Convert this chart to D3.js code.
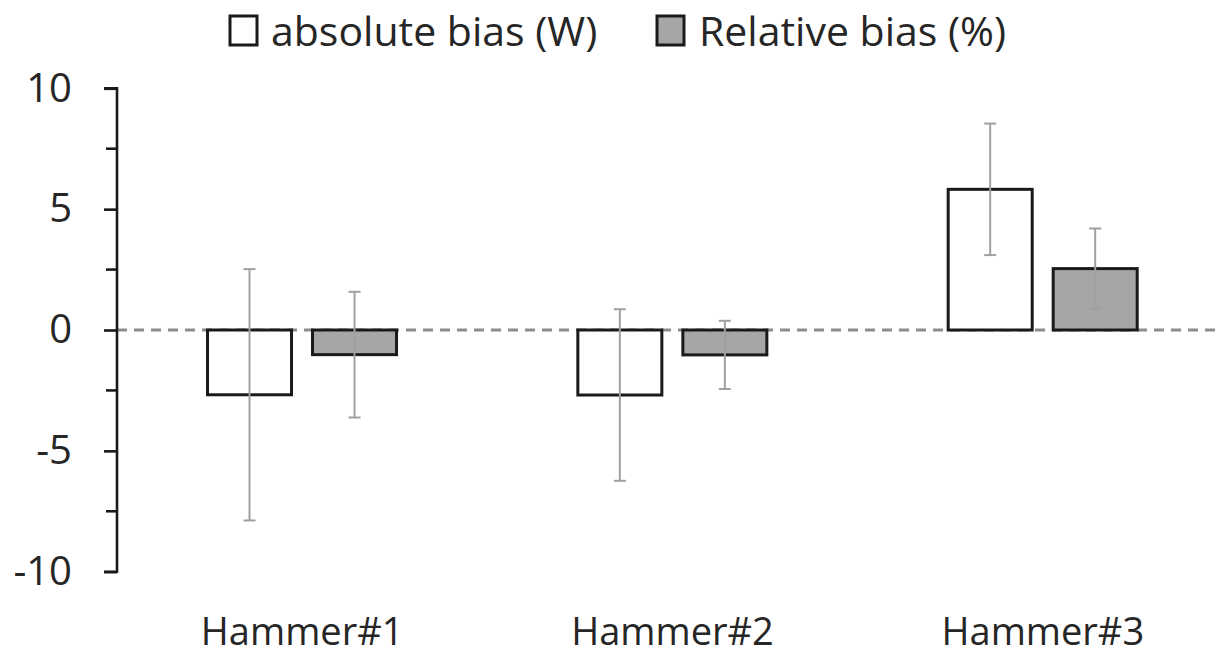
<!DOCTYPE html>
<html>
<head>
<meta charset="utf-8">
<script src="https://cdn.jsdelivr.net/npm/d3@7"></script>
<style>
  html, body { margin: 0; padding: 0; background: #fff; }
  svg { display: block; }
  text { font-family: "Open Sans", "DejaVu Sans", sans-serif; fill: #262626; }
</style>
</head>
<body>
<svg id="chart" width="1219" height="656"></svg>
<script>
// Categories and series
const categories = ["Hammer#1", "Hammer#2", "Hammer#3"];
const seriesNames = ["absolute bias (W)", "Relative bias (%)"];
// Mean bias per hammer
const absoluteBias = [-2.68, -2.69, 5.82];
const relativeBias = [-1.02, -1.03, 2.54];
// Error bar half-widths (± SD)
const absoluteSD = [5.2, 3.55, 2.72];
const relativeSD = [2.6, 1.41, 1.66];
// Axis ticks
const yTicks = [-10, -5, 0, 5, 10];
const yMinorTicks = [-7.5, -2.5, 2.5, 7.5];

const fills = ["#ffffff", "#a6a6a6"];

const svg = d3.select("#chart");
const margin = { left: 117, right: -9, top: 88.3, bottom: 84.3 };
const W = 1219, H = 656;
const innerTop = margin.top, innerBottom = H - margin.bottom;

const y = d3.scaleLinear().domain([-10, 10]).range([innerBottom, innerTop]);
const x0 = d3.scaleBand().domain(categories).range([margin.left, W - margin.right]);
const step = x0.step();
const x1 = d3.scaleBand().domain(seriesNames)
  .range([step * 0.2444, step * 0.7548]).paddingInner(0.2);

const rows = categories.map((c, i) => ({
  cat: c,
  vals: [
    { s: seriesNames[0], v: absoluteBias[i], e: absoluteSD[i], fill: fills[0] },
    { s: seriesNames[1], v: relativeBias[i], e: relativeSD[i], fill: fills[1] }
  ]
}));

// Zero reference line (dashed)
svg.append("line")
  .attr("x1", margin.left).attr("x2", W)
  .attr("y1", y(0)).attr("y2", y(0))
  .attr("stroke", "#8c8c8c").attr("stroke-width", 3)
  .attr("stroke-dasharray", "10,7");

// Bars
const groups = svg.append("g").selectAll("g").data(rows).join("g")
  .attr("transform", d => `translate(${x0(d.cat)},0)`);

groups.selectAll("rect").data(d => d.vals).join("rect")
  .attr("x", d => x1(d.s))
  .attr("width", x1.bandwidth())
  .attr("y", d => y(Math.max(0, d.v)))
  .attr("height", d => Math.abs(y(d.v) - y(0)))
  .attr("fill", d => d.fill)
  .attr("stroke", "#1a1a1a").attr("stroke-width", 3);

// Error bars
const eb = groups.selectAll("g.err").data(d => d.vals).join("g").attr("class", "err")
  .attr("stroke", "#a0a0a0").attr("stroke-width", 2);
eb.append("line")
  .attr("x1", d => x1(d.s) + x1.bandwidth() / 2)
  .attr("x2", d => x1(d.s) + x1.bandwidth() / 2)
  .attr("y1", d => y(d.v + d.e)).attr("y2", d => y(d.v - d.e));
[1, -1].forEach(sgn => {
  eb.append("line")
    .attr("x1", d => x1(d.s) + x1.bandwidth() / 2 - 6)
    .attr("x2", d => x1(d.s) + x1.bandwidth() / 2 + 6)
    .attr("y1", d => y(d.v + sgn * d.e)).attr("y2", d => y(d.v + sgn * d.e));
});

// Y axis
const yAxis = svg.append("g")
  .attr("transform", `translate(${margin.left},0)`)
  .call(d3.axisLeft(y).tickValues(yTicks).tickSize(13).tickPadding(32).tickFormat(d => String(d)));
yAxis.select(".domain").attr("stroke", "#1a1a1a").attr("stroke-width", 2.6)
  .attr("d", `M-13,${y(10)}H0V${y(-10)}H-13`);
yAxis.selectAll(".tick line").attr("stroke", "#1a1a1a").attr("stroke-width", 2.6);
yAxis.selectAll(".tick text")
  .attr("font-size", 40).attr("fill", "#262626")
  .attr("font-family", "'Open Sans', sans-serif");
yAxis.selectAll(".minor").data(yMinorTicks).join("line").attr("class", "minor")
  .attr("x1", -11).attr("x2", 0)
  .attr("y1", d => y(d)).attr("y2", d => y(d))
  .attr("stroke", "#1a1a1a").attr("stroke-width", 2.6);

// Category labels
svg.append("g").selectAll("text").data(categories).join("text")
  .attr("x", d => x0(d) + step / 2)
  .attr("y", 645)
  .attr("text-anchor", "middle")
  .attr("font-size", 38)
  .text(d => d);

// Legend
const legendX = [230, 657];
const legend = svg.append("g").selectAll("g").data(seriesNames).join("g")
  .attr("transform", (d, i) => `translate(${legendX[i]},0)`);
legend.append("rect")
  .attr("x", 0).attr("y", 16).attr("width", 27).attr("height", 29)
  .attr("fill", (d, i) => fills[i])
  .attr("stroke", "#1a1a1a").attr("stroke-width", 3);
legend.append("text")
  .attr("x", (d, i) => i === 0 ? 41 : 42)
  .attr("y", 46)
  .attr("font-size", 41)
  .text(d => d);
</script>
</body>
</html>
